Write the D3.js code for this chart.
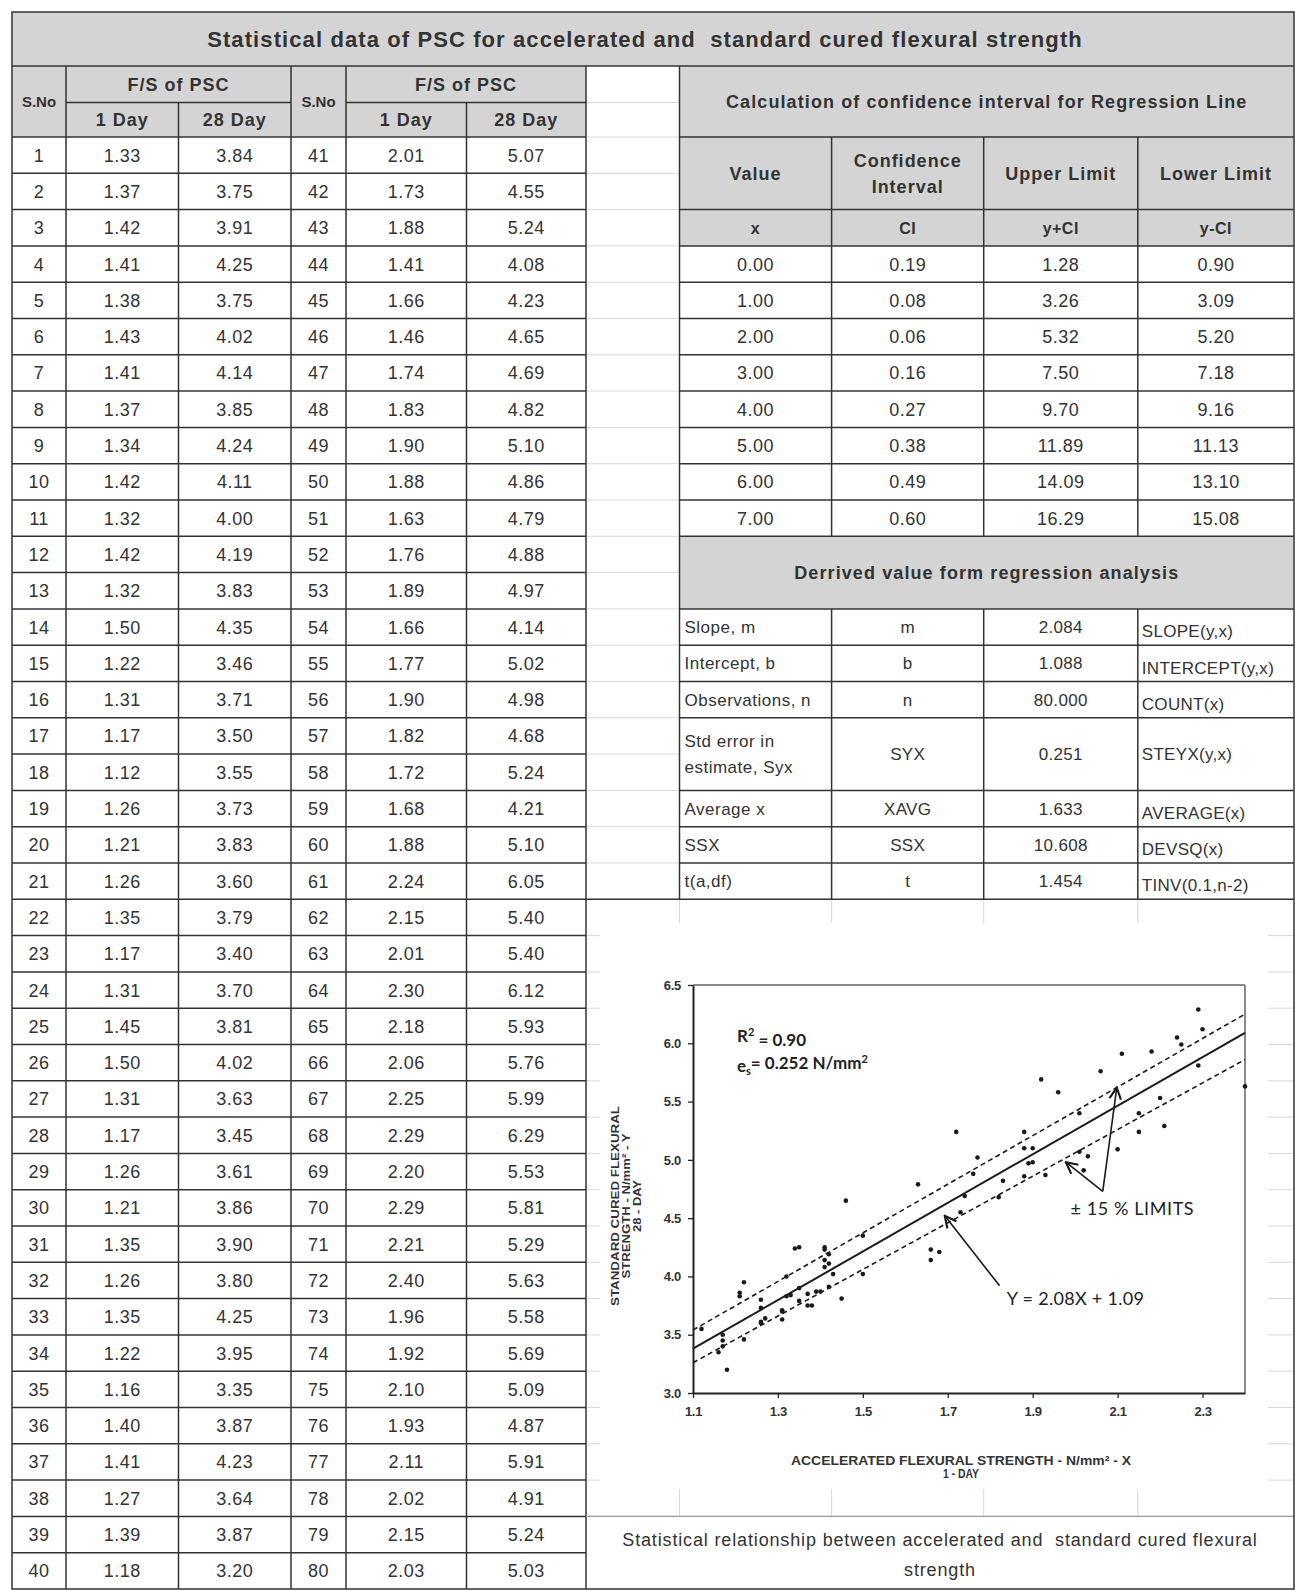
<!DOCTYPE html>
<html>
<head>
<meta charset="utf-8">
<script src="https://cdn.jsdelivr.net/npm/d3@7"></script>
<style>
  body { margin: 0; background: #fff; }
  svg text { font-family: "Liberation Sans", Arial, sans-serif; fill: #333; white-space: pre; }
  .chart-text { font-family: Lato, "Open Sans", sans-serif; fill: #222; }
</style>
</head>
<body>
<div id="chart"></div>
<script>
// ---- data ----
const title = "Statistical data of PSC for accelerated and  standard cured flexural strength";
const groupHeader = "F/S of PSC";
const dayHeaders = ["1 Day", "28 Day"];

const oneDay = [1.33, 1.37, 1.42, 1.41, 1.38, 1.43, 1.41, 1.37, 1.34, 1.42, 1.32, 1.42, 1.32, 1.50, 1.22, 1.31, 1.17, 1.12, 1.26, 1.21,
  1.26, 1.35, 1.17, 1.31, 1.45, 1.50, 1.31, 1.17, 1.26, 1.21, 1.35, 1.26, 1.35, 1.22, 1.16, 1.40, 1.41, 1.27, 1.39, 1.18,
  2.01, 1.73, 1.88, 1.41, 1.66, 1.46, 1.74, 1.83, 1.90, 1.88, 1.63, 1.76, 1.89, 1.66, 1.77, 1.90, 1.82, 1.72, 1.68, 1.88,
  2.24, 2.15, 2.01, 2.30, 2.18, 2.06, 2.25, 2.29, 2.20, 2.29, 2.21, 2.40, 1.96, 1.92, 2.10, 1.93, 2.11, 2.02, 2.15, 2.03];
const twentyEightDay = [3.84, 3.75, 3.91, 4.25, 3.75, 4.02, 4.14, 3.85, 4.24, 4.11, 4.00, 4.19, 3.83, 4.35, 3.46, 3.71, 3.50, 3.55, 3.73, 3.83,
  3.60, 3.79, 3.40, 3.70, 3.81, 4.02, 3.63, 3.45, 3.61, 3.86, 3.90, 3.80, 4.25, 3.95, 3.35, 3.87, 4.23, 3.64, 3.87, 3.20,
  5.07, 4.55, 5.24, 4.08, 4.23, 4.65, 4.69, 4.82, 5.10, 4.86, 4.79, 4.88, 4.97, 4.14, 5.02, 4.98, 4.68, 5.24, 4.21, 5.10,
  6.05, 5.40, 5.40, 6.12, 5.93, 5.76, 5.99, 6.29, 5.53, 5.81, 5.29, 5.63, 5.58, 5.69, 5.09, 4.87, 5.91, 4.91, 5.24, 5.03];

const ciTitle = "Calculation of confidence interval for Regression Line";
const ciHeaders = [["Value"], ["Confidence", "Interval"], ["Upper Limit"], ["Lower Limit"]];
const ciSymbols = ["x", "CI", "y+CI", "y-CI"];
const ciX = [0, 1, 2, 3, 4, 5, 6, 7];
const ciValue = [0.19, 0.08, 0.06, 0.16, 0.27, 0.38, 0.49, 0.60];
const ciUpper = [1.28, 3.26, 5.32, 7.50, 9.70, 11.89, 14.09, 16.29];
const ciLower = [0.90, 3.09, 5.20, 7.18, 9.16, 11.13, 13.10, 15.08];

const derivedTitle = "Derrived value form regression analysis";
const derivedLabels = [["Slope, m"], ["Intercept, b"], ["Observations, n"], ["Std error in", "estimate, Syx"], ["Average x"], ["SSX"], ["t(a,df)"]];
const derivedSymbols = ["m", "b", "n", "SYX", "XAVG", "SSX", "t"];
const derivedValues = [2.084, 1.088, 80.000, 0.251, 1.633, 10.608, 1.454];
const derivedFormulas = ["SLOPE(y,x)", "INTERCEPT(y,x)", "COUNT(x)", "STEYX(y,x)", "AVERAGE(x)", "DEVSQ(x)", "TINV(0.1,n-2)"];
const derivedRowSpans = [1, 1, 1, 2, 1, 1, 1];

// chart
const xTicks = [1.1, 1.3, 1.5, 1.7, 1.9, 2.1, 2.3];
const yTicks = [3.0, 3.5, 4.0, 4.5, 5.0, 5.5, 6.0, 6.5];
const upperLimit = [[1.1, 3.54], [2.4, 6.25]];
const lowerLimit = [[1.1, 3.26], [2.4, 5.86]];
const xAxisTitle = ["ACCELERATED FLEXURAL STRENGTH - N/mm² - X", "1 - DAY"];
const yAxisTitle = ["STANDARD CURED FLEXURAL", "STRENGTH - N/mm² - Y", "28 - DAY"];
const caption = ["Statistical relationship between accelerated and  standard cured flexural", "strength"];
const eqLabel = "Y = 2.08X + 1.09";
const limitsLabel = "± 15 % LIMITS";

// ---- layout ----
const W = 1295, H = 1590;
const colX = [12, 66, 178.5, 291, 346, 466.5, 586, 679.5, 831.6, 983.7, 1137.8, 1294];
const titleBottom = 66, headMid = 102.5, gridTop = 137, rowH = 36.3;
const rowTop = k => gridTop + rowH * k;
const mid = (a, b) => (a + b) / 2;
const fmt2 = d3.format(".2f"), fmt3 = d3.format(".3f"), fmt1 = d3.format(".1f");
const gray = "#d4d4d4", lineCol = "#333", faint = "#d8d8d8";
const head = { size: 18, bold: true, ls: 1.0 };

const svg = d3.select("#chart").append("svg")
  .attr("width", W).attr("height", H);

svg.append("rect").attr("width", W).attr("height", H).attr("fill", "#fff");

function text(g, x, y, str, o = {}) {
  return g.append("text")
    .attr("x", x).attr("y", y)
    .attr("dy", "0.36em")
    .attr("text-anchor", o.anchor || "middle")
    .attr("font-size", o.size || 18)
    .attr("font-weight", o.bold ? "bold" : null)
    .attr("letter-spacing", o.ls == null ? 0.5 : o.ls)
    .text(str);
}
function hline(g, x1, x2, y, c = lineCol, w = 1.5) {
  g.append("line").attr("x1", x1).attr("x2", x2).attr("y1", y).attr("y2", y)
    .attr("stroke", c).attr("stroke-width", w);
}
function vline(g, x, y1, y2, c = lineCol, w = 1.5) {
  g.append("line").attr("x1", x).attr("x2", x).attr("y1", y1).attr("y2", y2)
    .attr("stroke", c).attr("stroke-width", w);
}
function fill(g, x1, y1, x2, y2, c = gray) {
  g.append("rect").attr("x", x1).attr("y", y1).attr("width", x2 - x1).attr("height", y2 - y1).attr("fill", c);
}

const bg = svg.append("g");
// gray header fills
fill(bg, colX[0], 12, colX[11], titleBottom);
fill(bg, colX[0], titleBottom, colX[6], gridTop);
fill(bg, colX[7], titleBottom, colX[11], rowTop(3));
fill(bg, colX[7], rowTop(11), colX[11], rowTop(13));

// faint spreadsheet gridlines
const gridG = svg.append("g");
hline(gridG, colX[6], colX[7], headMid, faint, 1);
d3.range(0, 22).forEach(k => hline(gridG, colX[6], colX[7], rowTop(k), faint, 1));
d3.range(22, 39).forEach(k => hline(gridG, colX[6], colX[11], rowTop(k), faint, 1));
[7, 8, 9, 10].forEach(c => vline(gridG, colX[c], rowTop(21), rowTop(38), faint, 1));

// chart object background
svg.append("rect").attr("x", 600).attr("y", 923).attr("width", 668).attr("height", 566).attr("fill", "#fff");

// ---- table lines ----
const lines = svg.append("g");
hline(lines, colX[0], colX[11], titleBottom);
[1, 3, 4, 6].forEach(c => vline(lines, colX[c], titleBottom, rowTop(40)));
[2, 5].forEach(c => vline(lines, colX[c], headMid, rowTop(40)));
hline(lines, colX[1], colX[3], headMid);
hline(lines, colX[4], colX[6], headMid);
d3.range(0, 40).forEach(k => hline(lines, colX[0], colX[6], rowTop(k)));
// right tables
vline(lines, colX[7], titleBottom, rowTop(21));
[8, 9, 10].forEach(c => { vline(lines, colX[c], rowTop(0), rowTop(11)); vline(lines, colX[c], rowTop(13), rowTop(21)); });
[0, 2, 3, 4, 5, 6, 7, 8, 9, 10, 11, 13, 14, 15, 16, 18, 19, 20].forEach(k => hline(lines, colX[7], colX[11], rowTop(k)));
hline(lines, colX[6], colX[11], rowTop(21));
hline(lines, colX[6], colX[11], rowTop(38), "#999", 1.2);
lines.append("rect").attr("x", colX[0]).attr("y", 12).attr("width", colX[11] - colX[0]).attr("height", rowTop(40) - 12)
  .attr("fill", "none").attr("stroke", lineCol).attr("stroke-width", 1.5);

// ---- table text ----
const tg = svg.append("g");
text(tg, 645, mid(12, titleBottom), title, { size: 22, bold: true, ls: 1.1 });
[0, 3].forEach(c0 => {
  text(tg, mid(colX[c0], colX[c0 + 1]), mid(titleBottom, gridTop), "S.No", { size: 15, bold: true, ls: 0 });
  text(tg, mid(colX[c0 + 1], colX[c0 + 3]), mid(titleBottom, headMid), groupHeader, head);
  dayHeaders.forEach((h, j) => text(tg, mid(colX[c0 + 1 + j], colX[c0 + 2 + j]), mid(headMid, gridTop), h, head));
});
d3.range(40).forEach(i => {
  const yc = mid(rowTop(i), rowTop(i + 1));
  [0, 40].forEach((off, b) => {
    const c0 = b * 3;
    text(tg, mid(colX[c0], colX[c0 + 1]), yc, String(i + off + 1));
    text(tg, mid(colX[c0 + 1], colX[c0 + 2]), yc, fmt2(oneDay[i + off]));
    text(tg, mid(colX[c0 + 2], colX[c0 + 3]), yc, fmt2(twentyEightDay[i + off]));
  });
});

// confidence interval table
text(tg, mid(colX[7], colX[11]), mid(titleBottom, gridTop), ciTitle, { size: 18, bold: true, ls: 1.1 });
ciHeaders.forEach((h, j) => {
  const xc = mid(colX[7 + j], colX[8 + j]), yc = mid(rowTop(0), rowTop(2));
  h.forEach((line, li) => text(tg, xc, yc + (li - (h.length - 1) / 2) * 26, line, head));
  text(tg, xc, mid(rowTop(2), rowTop(3)), ciSymbols[j], { size: 16, bold: true, ls: 0.5 });
});
ciX.forEach((v, i) => {
  const yc = mid(rowTop(3 + i), rowTop(4 + i));
  [v, ciValue[i], ciUpper[i], ciLower[i]].forEach((d, j) =>
    text(tg, mid(colX[7 + j], colX[8 + j]), yc, fmt2(d)));
});

// derived values table
text(tg, mid(colX[7], colX[11]), mid(rowTop(11), rowTop(13)), derivedTitle, { size: 18, bold: true, ls: 1.1 });
let r = 13;
derivedLabels.forEach((lab, i) => {
  const span = derivedRowSpans[i];
  const top = rowTop(r), bot = rowTop(r + span), yc = mid(top, bot);
  lab.forEach((line, li) => text(tg, colX[7] + 5, yc + (li - (lab.length - 1) / 2) * 26, line, { anchor: "start", size: 17, ls: 0.5 }));
  text(tg, mid(colX[8], colX[9]), yc, derivedSymbols[i], { size: 17, ls: 0.3 });
  text(tg, mid(colX[9], colX[10]), yc, fmt3(derivedValues[i]), { size: 17, ls: 0.3 });
  text(tg, colX[10] + 4, span > 1 ? yc : bot - 14, derivedFormulas[i], { anchor: "start", size: 17, ls: 0.3 });
  r += span;
});

// caption
caption.forEach((c, i) => text(tg, mid(colX[6], colX[11]), rowTop(38) + 23 + i * 30, c, { size: 18, ls: 0.85 }));

// ---- scatter chart ----
const x = d3.scaleLinear().domain([1.1, 2.4]).range([693, 1245]);
const y = d3.scaleLinear().domain([3, 6.5]).range([1393, 985]);
const cg = svg.append("g");

// frame (top/right in grey)
hline(cg, x(1.1), x(2.4), y(6.5), "#8a8a8a", 2);
vline(cg, x(2.4), y(6.5), y(3), "#8a8a8a", 2);

const xAxis = cg.append("g").attr("transform", `translate(0,${y(3)})`)
  .call(d3.axisBottom(x).tickValues(xTicks).tickFormat(fmt1).tickSize(5).tickSizeOuter(0).tickPadding(9));
const yAxis = cg.append("g").attr("transform", `translate(${x(1.1)},0)`)
  .call(d3.axisLeft(y).tickValues(yTicks).tickFormat(fmt1).tickSize(5).tickSizeOuter(0).tickPadding(7));
[xAxis, yAxis].forEach(a => {
  a.select(".domain").attr("stroke", "#222").attr("stroke-width", 2);
  a.selectAll(".tick line").attr("stroke", "#222").attr("stroke-width", 1.3);
  a.selectAll(".tick text").attr("font-size", 13).attr("font-weight", "bold").attr("fill", "#333")
    .attr("letter-spacing", -0.3).style("font-family", "\"Liberation Sans\", Arial, sans-serif");
});

// points
cg.append("g").selectAll("circle")
  .data(oneDay.map((d, i) => [d, twentyEightDay[i]]))
  .join("circle")
  .attr("cx", d => x(d[0])).attr("cy", d => y(d[1]))
  .attr("r", 2.3).attr("fill", "#1a1a1a");

// regression line and limits
const slope = derivedValues[0], intercept = derivedValues[1];
const regLine = x.domain().map(v => [v, slope * v + intercept]);
const line = d3.line().x(d => x(d[0])).y(d => y(d[1]));
cg.append("path").datum(regLine).attr("d", line).attr("fill", "none").attr("stroke", "#1a1a1a").attr("stroke-width", 2);
[upperLimit, lowerLimit].forEach(l =>
  cg.append("path").datum(l).attr("d", line).attr("fill", "none")
    .attr("stroke", "#1a1a1a").attr("stroke-width", 1.6).attr("stroke-dasharray", "5,3.5"));

// arrows
svg.append("defs").append("marker")
  .attr("id", "arrow").attr("viewBox", "0 0 10 10").attr("refX", 9).attr("refY", 5)
  .attr("markerWidth", 9).attr("markerHeight", 9).attr("orient", "auto-start-reverse")
  .append("path").attr("d", "M1,1 L9,5 L1,9").attr("fill", "none").attr("stroke", "#1a1a1a").attr("stroke-width", 1.5);

const eqArrow = [[1.822, 3.92], [1.693, 4.52]];
const limitArrows = [[[2.065, 4.73], [2.098, 5.62]], [[2.065, 4.73], [1.978, 4.98]]];
[eqArrow, ...limitArrows].forEach(a =>
  cg.append("path").datum(a).attr("d", line).attr("fill", "none")
    .attr("stroke", "#1a1a1a").attr("stroke-width", 1.6).attr("marker-end", "url(#arrow)"));

// annotations
cg.append("text").attr("class", "chart-text").attr("x", x(1.839)).attr("y", y(3.81)).attr("dy", "0.36em")
  .attr("font-size", 18).attr("letter-spacing", 0.3).text(eqLabel);
cg.append("text").attr("class", "chart-text").attr("x", x(1.989)).attr("y", y(4.58)).attr("dy", "0.36em")
  .attr("font-size", 18).attr("letter-spacing", 0.6).text(limitsLabel);

const r2 = cg.append("text").attr("class", "chart-text").attr("x", x(1.2035)).attr("y", y(6.06)).attr("dy", "0.36em")
  .attr("font-size", 17).attr("font-weight", "bold");
r2.append("tspan").text("R");
r2.append("tspan").attr("font-size", 11).attr("dy", "-0.6em").text("2");
r2.append("tspan").attr("dy", "0.6em").text(" = 0.90");
const es = cg.append("text").attr("class", "chart-text").attr("x", x(1.2035)).attr("y", y(5.81)).attr("dy", "0.36em")
  .attr("font-size", 17).attr("font-weight", "bold");
es.append("tspan").text("e");
es.append("tspan").attr("font-size", 11).attr("dy", "0.35em").text("s");
es.append("tspan").attr("dy", "-0.35em").text("= 0.252 N/mm");
es.append("tspan").attr("font-size", 11).attr("dy", "-0.6em").text("2");

// axis titles (condensed lettering)
const xTitleLen = [340, 36];
xAxisTitle.forEach((t, i) =>
  cg.append("text").attr("x", 961).attr("y", 1460 + i * 13).attr("dy", "0.36em")
    .attr("text-anchor", "middle").attr("font-size", 13).attr("font-weight", "bold").attr("fill", "#222")
    .attr("textLength", xTitleLen[i]).attr("lengthAdjust", "spacingAndGlyphs").text(t));
const yTitleLen = [200, 145, 52];
yAxisTitle.forEach((t, i) =>
  cg.append("text").attr("transform", `translate(${615 + i * 11},1206) rotate(-90)`).attr("dy", "0.36em")
    .attr("text-anchor", "middle").attr("font-size", 10.5).attr("font-weight", "bold").attr("fill", "#222")
    .attr("textLength", yTitleLen[i]).attr("lengthAdjust", "spacingAndGlyphs").text(t));
</script>
</body>
</html>
